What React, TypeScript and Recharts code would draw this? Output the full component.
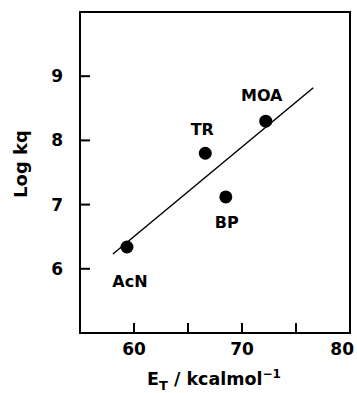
import React from "react";
import {
  Label,
  ReferenceArea,
  ReferenceLine,
  Scatter,
  ScatterChart,
  XAxis,
  YAxis,
} from "recharts";

// solvents, E_T (kcal/mol) and log kq
const solvents = ["AcN", "TR", "BP", "MOA"];
const etValues = [59.35, 66.6, 68.5, 72.2];
const logKq = [6.34, 7.8, 7.12, 8.3];

// fitted line end points
const fitLine = [
  { x: 58.05, y: 6.23 },
  { x: 76.6, y: 8.82 },
];

const xTicks = [60, 65, 70, 75, 80];
const yTicks = [6, 7, 8, 9];

// where each solvent name sits relative to its dot (dx, baseline dy)
const labelOffset: { [key: string]: [number, number] } = {
  AcN: [3, 40],
  TR: [-3, -18],
  BP: [1, 31],
  MOA: [-4, -20],
};

const FONT = "'DejaVu Sans', 'Liberation Sans', Arial, sans-serif";

const points = solvents.map((name, i) => ({
  name,
  x: etValues[i],
  y: logKq[i],
}));

const Dot = (props: any) => {
  const { cx, cy, payload } = props;
  const [dx, dy] = labelOffset[payload.name] || [0, -15];
  return (
    <g>
      <circle cx={cx} cy={cy} r={6.5} fill="#000" />
      <text
        x={cx + dx}
        y={cy + dy}
        textAnchor="middle"
        fontFamily={FONT}
        fontWeight="bold"
        fontSize={16}
        fill="#000"
      >
        {payload.name}
      </text>
    </g>
  );
};

// only every 10 gets a number; the last one is pulled in so it fits
const XTick = (props: any) => {
  const { x, y, payload } = props;
  const v = payload.value;
  if (v % 10 !== 0) return null;
  const last = v === xTicks[xTicks.length - 1];
  return (
    <text
      x={last ? x + 5 : x}
      y={y}
      dy="0.71em"
      textAnchor={last ? "end" : "middle"}
      fontFamily={FONT}
      fontWeight="bold"
      fontSize={17}
      fill="#000"
    >
      {v}
    </text>
  );
};

const XTitle = (props: any) => {
  const { x, y, width } = props.viewBox;
  return (
    <text
      x={x + width / 2 - 1}
      y={y + 52}
      textAnchor="middle"
      fontFamily={FONT}
      fontWeight="bold"
      fontSize={17.5}
      fill="#000"
    >
      E
      <tspan fontSize={13} dy={5}>
        T
      </tspan>
      <tspan dy={-5}> / kcalmol</tspan>
      <tspan fontSize={12} dy={-7}>
        −1
      </tspan>
    </text>
  );
};

const YTitle = () => (
  <text
    x={20}
    y={164}
    transform="rotate(-90, 20, 164)"
    textAnchor="middle"
    dominantBaseline="central"
    fontFamily={FONT}
    fontWeight="bold"
    fontSize={18}
    fill="#000"
  >
    Log kq
  </text>
);

const tickStyle = {
  fontFamily: FONT,
  fontWeight: "bold",
  fontSize: 17,
  fill: "#000",
};

export default function App() {
  return (
    <div style={{ position: "absolute", left: 0, top: 0, background: "#fff" }}>
      <ScatterChart
        width={357}
        height={393}
        margin={{ top: 12, right: 7, bottom: 0, left: 0 }}
      >
        <XAxis
          type="number"
          dataKey="x"
          domain={[55, 80]}
          ticks={xTicks}
          tickSize={-10}
          tickMargin={20}
          height={60}
          allowDataOverflow
          axisLine={{ stroke: "#000", strokeWidth: 2 }}
          tickLine={{ stroke: "#000", strokeWidth: 2 }}
          tick={<XTick />}
        >
          <Label content={<XTitle />} />
        </XAxis>
        <YAxis
          type="number"
          dataKey="y"
          domain={[5, 10]}
          ticks={yTicks}
          tickSize={-10}
          tickMargin={27}
          width={80}
          allowDataOverflow
          axisLine={{ stroke: "#000", strokeWidth: 2 }}
          tickLine={{ stroke: "#000", strokeWidth: 2 }}
          tick={tickStyle}
        >
          <Label content={<YTitle />} />
        </YAxis>
        <ReferenceArea
          x1={55}
          x2={80}
          y1={5}
          y2={10}
          fill="none"
          stroke="#000"
          strokeWidth={2}
          ifOverflow="visible"
        />
        <ReferenceLine
          segment={fitLine}
          stroke="#000"
          strokeWidth={1.5}
          ifOverflow="visible"
        />
        <Scatter data={points} shape={<Dot />} isAnimationActive={false} />
      </ScatterChart>
    </div>
  );
}
